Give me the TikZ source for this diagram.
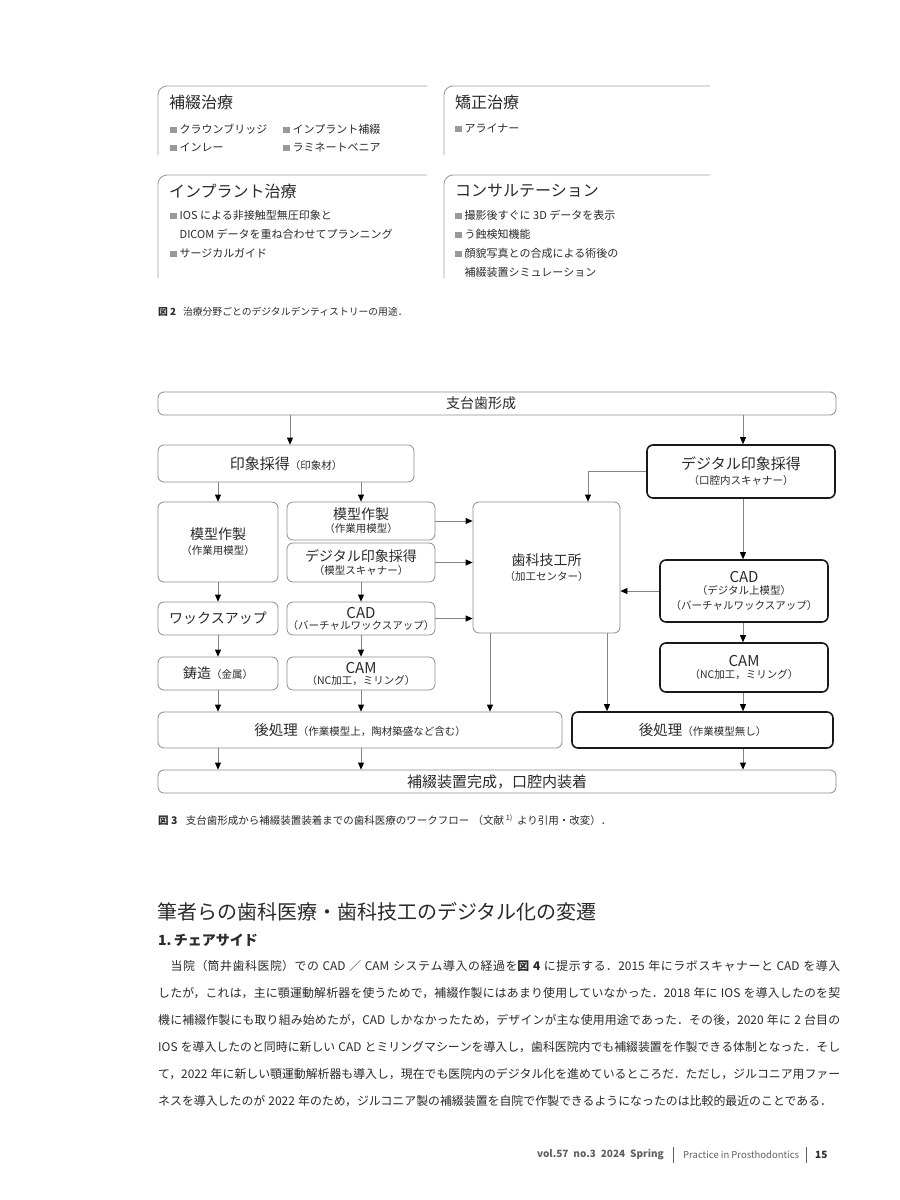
\documentclass[tikz,border=0pt]{standalone}
\usepackage{fontspec}
\setmainfont{Noto Sans CJK JP}
\usetikzlibrary{arrows.meta}
\XeTeXlinebreaklocale "ja"
\XeTeXlinebreakskip=0pt plus 2pt minus 0.5pt
\definecolor{txt}{HTML}{2A2A2A}
\definecolor{panelgray}{HTML}{A0A0A0}
\definecolor{boxgray}{HTML}{8C8C8C}
\definecolor{linegray}{HTML}{858585}
\definecolor{sqgray}{HTML}{999999}
\definecolor{footgray}{HTML}{606060}
\newcommand{\jfs}[1]{\fontsize{#1}{#1}\selectfont}
\newcommand{\sqm}{\textcolor{sqgray}{\rule{6.5pt}{6.5pt}}\hspace{3pt}}
\newcommand{\sub}[1]{{\jfs{10.5}#1}}
\newcommand{\bodyline}[1]{\parbox{682pt}{\spaceskip=3.2pt plus 1.5pt minus 1pt\relax\parfillskip=0pt\relax\tolerance=9999\relax\noindent #1}}
\tikzset{
  panel/.style={draw=panelgray, line width=0.9pt, rounded corners=9pt},
  ptitle/.style={anchor=west, inner sep=0, text=txt, font=\jfs{16}},
  pitem/.style={anchor=west, inner sep=0, text=txt, font=\jfs{11}},
  fbox/.style={draw=boxgray, line width=0.8pt, rounded corners=6pt, inner sep=0, align=center, text=txt, font=\jfs{14}},
  bbox/.style={fbox, draw=black!90, line width=1.6pt},
  arr/.style={draw=linegray, line width=0.8pt, -{Triangle[length=7pt,width=6pt,color=black]}},
  txtnode/.style={anchor=west, inner sep=0, text=txt},
  bodytext/.style={txtnode, font=\jfs{11.9}},
}
\begin{document}
\begin{tikzpicture}[x=1pt,y=-1pt]
\useasboundingbox[fill=white] (0,0) rectangle (900,1200);

% ---------- Figure 2 panels ----------
\draw[panel] (427,86) -- (158,86) -- (158,155);
\draw[panel] (710,86) -- (444,86) -- (444,155);
\draw[panel] (427,175) -- (158,175) -- (158,278);
\draw[panel] (710,175) -- (444,175) -- (444,278);

\node[ptitle] (t1) at (169,102) {補綴治療};
\node[pitem] (i11) at (170,129) {\sqm クラウンブリッジ};
\node[pitem] (i12) at (283,129) {\sqm インプラント補綴};
\node[pitem] (i13) at (170,147) {\sqm インレー};
\node[pitem] (i14) at (283,147) {\sqm ラミネートベニア};

\node[ptitle] (t2) at (455,102) {矯正治療};
\node[pitem] (i21) at (455,128) {\sqm アライナー};

\node[ptitle] (t3) at (169,191) {インプラント治療};
\node[pitem] (i31) at (170,215) {\sqm IOS による非接触型無圧印象と};
\node[pitem] (i32) at (179.5,234) {DICOM データを重ね合わせてプランニング};
\node[pitem] (i33) at (170,253) {\sqm サージカルガイド};

\node[ptitle] (t4) at (455,191) {コンサルテーション};
\node[pitem] (i41) at (455,215) {\sqm 撮影後すぐに 3D データを表示};
\node[pitem] (i42) at (455,234) {\sqm う蝕検知機能};
\node[pitem] (i43) at (455,253) {\sqm 顔貌写真との合成による術後の};
\node[pitem] (i44) at (464.5,272) {補綴装置シミュレーション};

\node[txtnode, font=\jfs{9.8}] (cap2) at (158,312) {\textbf{図 2}\hspace{0.7em}治療分野ごとのデジタルデンティストリーの用途．};

% ---------- Figure 3 flow ----------
\node[fbox, minimum width=678pt, minimum height=23pt] (top) at (497,403.5) {支台歯形成\kern32pt};
\node[fbox, minimum width=256pt, minimum height=37pt] (imp) at (286,463.5) {{\jfs{15}印象採得}\sub{（印象材）}};
\node[bbox, minimum width=188pt, minimum height=53pt] (dimp) at (741,471.5) {{\jfs{15}デジタル印象採得}\\[1pt]\sub{（口腔内スキャナー）}};
\node[fbox, minimum width=120pt, minimum height=80pt] (mod1) at (218,542) {模型作製\\[1pt]\sub{（作業用模型）}};
\node[fbox, minimum width=148pt, minimum height=38pt] (mod2) at (361,521) {模型作製\\[-1pt]\sub{（作業用模型）}};
\node[fbox, minimum width=148pt, minimum height=39pt] (dscan) at (361,562.5) {デジタル印象採得\\[-1pt]\sub{（模型スキャナー）}};
\node[fbox, minimum width=147pt, minimum height=131pt] (lab) at (546.5,567.5) {歯科技工所\\[1pt]\sub{（加工センター）}};
\node[bbox, minimum width=168pt, minimum height=62pt] (cad2) at (744,591) {{\jfs{15}CAD}\\[-2pt]\sub{（デジタル上模型）}\\[1pt]\sub{（バーチャルワックスアップ）}};
\node[fbox, minimum width=120pt, minimum height=33pt] (wax) at (218,618.5) {ワックスアップ};
\node[fbox, minimum width=148pt, minimum height=33pt] (cad1) at (361,618.5) {{\jfs{15}CAD}\\[-3pt]\sub{（バーチャルワックスアップ）}};
\node[fbox, minimum width=120pt, minimum height=33pt] (cast) at (218,673.5) {鋳造\sub{（金属）}};
\node[fbox, minimum width=148pt, minimum height=33pt] (cam1) at (361,673.5) {{\jfs{15}CAM}\\[-3pt]\sub{（NC加工，ミリング）}};
\node[bbox, minimum width=168pt, minimum height=49pt] (cam2) at (744,667.5) {{\jfs{15}CAM}\\[-2pt]\sub{（NC加工，ミリング）}};
\node[fbox, minimum width=404pt, minimum height=36pt] (post1) at (360,730) {{\jfs{14.5}後処理}\sub{（作業模型上，陶材築盛など含む）}};
\node[bbox, minimum width=261pt, minimum height=36pt] (post2) at (702.5,730) {{\jfs{14.5}後処理}\sub{（作業模型無し）}};
\node[fbox, minimum width=678pt, minimum height=23pt] (final) at (497,781.5) {{\jfs{15}補綴装置完成，口腔内装着}};

\coordinate (kx) at (588,0);
\coordinate (lx1) at (490,0);
\coordinate (lx2) at (607,0);
\coordinate (rx) at (743,0);
\coordinate (tx) at (290,0);

\draw[arr] (top.south -| tx) -- (imp.north -| tx);
\draw[arr] (top.south -| rx) -- (dimp.north -| rx);
\draw[arr] (imp.south -| mod1.north) -- (mod1.north);
\draw[arr] (imp.south -| mod2.north) -- (mod2.north);
\draw[arr] (mod2.east) -- (mod2.east -| lab.west);
\draw[arr] (dscan.east) -- (dscan.east -| lab.west);
\draw[arr] (cad1.east) -- (cad1.east -| lab.west);
\draw[arr] (dimp.west) -| (lab.north -| kx);
\draw[arr] (dimp.south -| rx) -- (cad2.north -| rx);
\draw[arr] (cad2.west) -- (cad2.west -| lab.east);
\draw[arr] (mod1.south) -- (wax.north);
\draw[arr] (wax.south) -- (cast.north);
\draw[arr] (cast.south) -- (post1.north -| cast.south);
\draw[arr] (dscan.south) -- (cad1.north);
\draw[arr] (cad1.south) -- (cam1.north);
\draw[arr] (cam1.south) -- (post1.north -| cam1.south);
\draw[arr] (lab.south -| lx1) -- (post1.north -| lx1);
\draw[arr] (lab.south -| lx2) -- (post2.north -| lx2);
\draw[arr] (cad2.south -| rx) -- (cam2.north -| rx);
\draw[arr] (cam2.south -| rx) -- (post2.north -| rx);
\draw[arr] (post1.south -| cast.south) -- (final.north -| cast.south);
\draw[arr] (post1.south -| cam1.south) -- (final.north -| cam1.south);
\draw[arr] (post2.south -| rx) -- (final.north -| rx);

\node[txtnode, font=\jfs{10.5}] (cap3) at (158,820) {\textbf{図 3}\hspace{0.8em}支台歯形成から補綴装置装着までの歯科医療のワークフロー\hspace{0.3em}（文献\,\textsuperscript{1)}\hspace{0.4em}より引用・改変）．};

% ---------- body text ----------
\node[txtnode, font=\jfs{20}] (h1) at (157,912) {筆者らの歯科医療・歯科技工のデジタル化の変遷};
\node[txtnode, font=\jfs{14}] (h2) at (158,940) {\textbf{1.\,チェアサイド}};
\node[bodytext] (p1) at (158,966) {\bodyline{　当院（筒井歯科医院）での CAD ／ CAM システム導入の経過を\textbf{図 4} に提示する．2015 年にラボスキャナーと CAD を導入}};
\node[bodytext] (p2) at (158,993) {\bodyline{したが，これは，主に顎運動解析器を使うためで，補綴作製にはあまり使用していなかった．2018 年に IOS を導入したのを契}};
\node[bodytext] (p3) at (158,1020) {\bodyline{機に補綴作製にも取り組み始めたが，CAD しかなかったため，デザインが主な使用用途であった．その後，2020 年に 2 台目の}};
\node[bodytext] (p4) at (158,1047) {\bodyline{IOS を導入したのと同時に新しい CAD とミリングマシーンを導入し，歯科医院内でも補綴装置を作製できる体制となった．そし}};
\node[bodytext] (p5) at (158,1074) {\bodyline{て，2022 年に新しい顎運動解析器も導入し，現在でも医院内のデジタル化を進めているところだ．ただし，ジルコニア用ファー}};
\node[bodytext] (p6) at (158,1101) {\spaceskip=3.2pt plus 1.5pt minus 1pt ネスを導入したのが 2022 年のため，ジルコニア製の補綴装置を自院で作製できるようになったのは比較的最近のことである．};

% ---------- footer ----------
\node[anchor=east, inner sep=0, text=footgray, font=\jfs{10}\bfseries] (f1) at (664,1155) {vol.57\hspace{0.5em}no.3\hspace{0.5em}2024\hspace{0.5em}Spring};
\node[anchor=west, inner sep=0, text=footgray, font=\jfs{9.5}] (f2) at (683,1155) {Practice in Prosthodontics};
\node[anchor=west, inner sep=0, text=txt, font=\jfs{10}\bfseries] (f3) at (815,1155) {15};
\coordinate (b1t) at (673,1147);
\coordinate (b1b) at (673,1163);
\coordinate (b2t) at (806,1147);
\coordinate (b2b) at (806,1163);
\draw[footgray, line width=0.8pt] (b1t) -- (b1b);
\draw[footgray, line width=0.8pt] (b2t) -- (b2b);
\end{tikzpicture}
\end{document}
